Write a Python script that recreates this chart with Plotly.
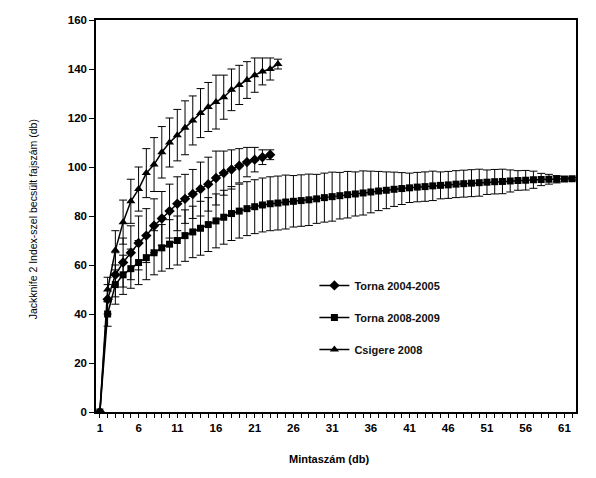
import plotly.graph_objects as go

# Sample number categories
samples = list(range(1, 63))
tick_labels = [str(v) if (v - 1) % 5 == 0 else "" for v in samples]

# Torna 2004-2005 (diamonds)
torna0405 = [0, 46, 56, 61, 65, 69, 72, 76, 79, 82, 85, 87, 89, 91, 93, 95.5,
             97.5, 99, 100.5, 102, 103, 104, 105]
torna0405_err = [0, 6, 9, 10, 11, 11, 11, 11, 11, 11, 11, 10, 10, 11, 11, 11,
                 9, 8, 7, 6, 5, 3, 2]

# Torna 2008-2009 (squares)
torna0809 = [0, 40, 52, 56, 58.5, 61, 63, 65, 67, 68.5, 70, 72, 73.5, 75, 76.5,
             78, 79.5, 81, 82, 83, 83.8, 84.5, 85, 85.3, 85.7, 86, 86.3, 86.6,
             87, 87.5, 87.9, 88.3, 88.7, 89, 89.4, 89.8, 90.2, 90.5, 90.9, 91.2,
             91.5, 91.8, 92, 92.3, 92.5, 92.7, 93, 93.2, 93.4, 93.6, 93.8, 94,
             94.1, 94.3, 94.5, 94.6, 94.8, 94.9, 95, 95, 95.1, 95.2]
torna0809_err = [0, 5, 8, 8, 8, 9, 9, 9, 9.5, 10, 10, 10.5, 10.5, 11, 11, 11,
                 11, 11, 11, 11, 11, 11, 11, 11, 11, 10.5, 10.5, 10.5, 10, 10,
                 10, 9.5, 9.5, 9, 9, 8.5, 8, 7.5, 7, 6.5, 6, 6, 6, 6, 5.5, 5.5,
                 5.5, 5.5, 5.5, 5.5, 5, 5, 5, 4.5, 4, 4, 3.5, 2.5, 2, 1.5, 1, 0.5]

# Csigere 2008 (triangles)
csigere = [0, 50, 66, 77.5, 86, 91, 97.5, 101, 106, 110, 113, 116, 119, 122,
           124.5, 126.5, 128.5, 131.5, 133.5, 135.5, 137.5, 139, 140, 142]
csigere_err = [0, 5, 8, 9, 9, 9, 10, 11, 10.5, 10, 10.5, 11, 10, 10, 10, 11, 9,
               8.5, 8, 7.5, 7, 5.5, 4.5, 2]

series = [
    ("Torna 2004-2005", torna0405, torna0405_err, "diamond", 8),
    ("Torna 2008-2009", torna0809, torna0809_err, "square", 7),
    ("Csigere 2008", csigere, csigere_err, "triangle-up", 8),
]

font_family = "Liberation Sans, Arial, sans-serif"

fig = go.Figure()
for i, (name, vals, errs, sym, size) in enumerate(series):
    fig.add_trace(go.Scatter(
        x=samples[:len(vals)], y=vals, name=name, mode="lines+markers",
        legendgroup=f"g{i}",
        line=dict(color="black", width=1.5),
        marker=dict(symbol=sym, size=size, color="black"),
        error_y=dict(type="data", array=errs, color="black", thickness=1, width=4),
    ))

fig.update_layout(
    width=596, height=478,
    margin=dict(l=96, r=20, t=20, b=66),
    paper_bgcolor="white", plot_bgcolor="white",
    font=dict(family=font_family, size=11, color="black"),
    legend=dict(x=0.455, y=0.36, xanchor="left", yanchor="top",
                bgcolor="rgba(0,0,0,0)", tracegroupgap=13, itemwidth=30,
                font=dict(family=font_family, size=11, color="#111", weight="bold")),
    showlegend=True,
)
fig.update_xaxes(
    range=[0.5, 62.5], tickmode="array", tickvals=samples, ticktext=tick_labels,
    ticks="outside", ticklen=4, tickcolor="black", showline=True, linecolor="black",
    linewidth=1.5, mirror=True, showgrid=False, zeroline=False,
    tickfont=dict(family=font_family, size=11.5, weight="bold"), tickangle=0,
)
fig.update_yaxes(
    range=[0, 160], dtick=20, ticks="outside", ticklen=5, tickcolor="black",
    showline=True, linecolor="black", linewidth=1.5, mirror=True, showgrid=False,
    zeroline=False, tickfont=dict(family=font_family, size=11.5, weight="bold"),
)
fig.add_annotation(text="Mintaszám (db)", xref="paper", yref="paper",
                   x=0.485, y=-0.12, xanchor="center", yanchor="middle",
                   showarrow=False,
                   font=dict(family=font_family, size=11, weight="bold"))
fig.add_annotation(text="Jackknife 2 Index-szel becsült fajszám (db)",
                   xref="paper", yref="paper", x=-0.131, y=0.492,
                   xanchor="center", yanchor="middle", textangle=-90,
                   showarrow=False, font=dict(family=font_family, size=10.5))

fig.write_html("out.html")
